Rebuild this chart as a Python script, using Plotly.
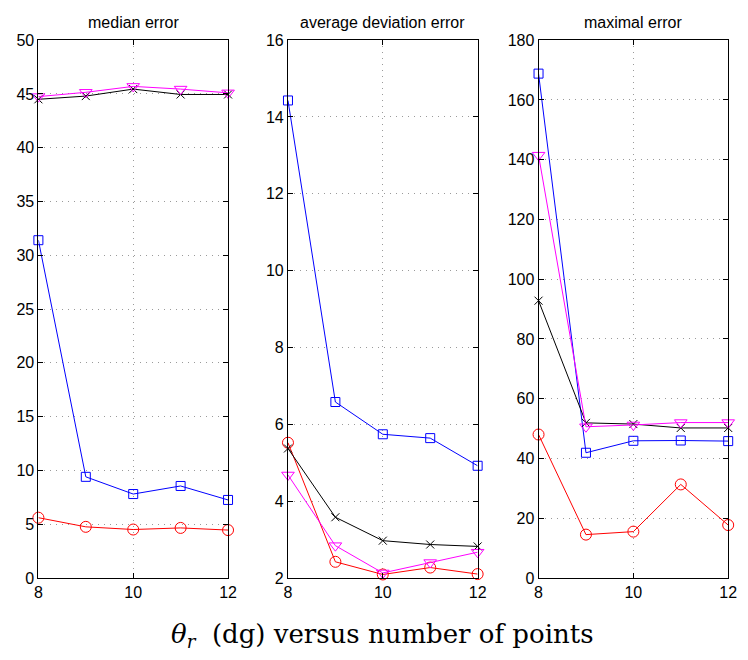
import plotly.graph_objects as go

# Number of points on the x axis
n_points = [8, 9, 10, 11, 12]

# median error
median_blue = [31.4, 9.4, 7.8, 8.55, 7.25]
median_red = [5.6, 4.75, 4.5, 4.65, 4.45]
median_black = [44.5, 44.8, 45.45, 44.95, 44.95]
median_magenta = [44.75, 45.15, 45.7, 45.45, 45.1]

# average deviation error
avgdev_blue = [14.43, 6.58, 5.74, 5.64, 4.92]
avgdev_red = [5.52, 2.42, 2.09, 2.27, 2.1]
avgdev_black = [5.37, 3.58, 2.97, 2.87, 2.82]
avgdev_magenta = [4.68, 2.84, 2.13, 2.4, 2.67]

# maximal error
max_blue = [168.8, 41.9, 45.9, 46.0, 45.8]
max_red = [48.0, 14.5, 15.5, 31.3, 17.7]
max_black = [92.8, 51.9, 51.5, 50.2, 50.2]
max_magenta = [141.5, 50.6, 51.2, 52.0, 52.0]

panel_titles = ["median error", "average deviation error", "maximal error"]
y_ranges = [(0, 50), (2, 16), (0, 180)]
y_dticks = [5, 2, 20]

panels = [
    (median_blue, median_red, median_black, median_magenta),
    (avgdev_blue, avgdev_red, avgdev_black, avgdev_magenta),
    (max_blue, max_red, max_black, max_magenta),
]

W, H = 748, 660
x_px = [(35, 228), (289, 482), (544, 737)]
y_top, y_bot = 33, 585

fig = go.Figure()

styles = [
    dict(color="#0000ff", symbol="square-open", size=9),
    dict(color="#ff0000", symbol="circle-open", size=11),
    dict(color="#000000", symbol="x-thin-open", size=8),
    dict(color="#ff00ff", symbol="triangle-down-open", size=11),
]

SANS = "Arial"
tick_font = dict(family=SANS, size=16, color="black")

for i, series in enumerate(panels):
    xa = "x" if i == 0 else f"x{i+1}"
    ya = "y" if i == 0 else f"y{i+1}"
    for vals, st in zip(series, styles):
        fig.add_trace(go.Scatter(
            x=n_points, y=vals, mode="lines+markers",
            line=dict(color=st["color"], width=1),
            marker=dict(symbol=st["symbol"], size=st["size"], color=st["color"],
                        line=dict(color=st["color"], width=1)),
            xaxis=xa, yaxis=ya, showlegend=False, cliponaxis=False,
        ))
    x0, x1 = x_px[i]
    axis_common = dict(
        showline=True, linecolor="black", linewidth=1, mirror="ticks",
        ticks="inside", ticklen=5, tickcolor="black", tickwidth=1,
        showgrid=True, gridcolor="#9a9a9a", griddash="1px,5px", gridwidth=1,
        zeroline=False, tickfont=tick_font,
    )
    fig.layout[f"xaxis{'' if i == 0 else i+1}"] = dict(
        domain=[x0 / W, x1 / W], range=[8, 12], tickvals=[8, 10, 12],
        anchor=ya, **axis_common)
    fig.layout[f"yaxis{'' if i == 0 else i+1}"] = dict(
        domain=[1 - y_bot / H, 1 - y_top / H], range=list(y_ranges[i]),
        dtick=y_dticks[i], anchor=xa, **axis_common)
    fig.add_annotation(
        x=(x0 + x1) / 2 / W, y=1 - 15 / H, xref="paper", yref="paper",
        text=panel_titles[i], showarrow=False, xanchor="center", yanchor="middle",
        font=dict(family=SANS, size=16, color="black"),
    )

fig.add_annotation(
    x=385 / W, y=1 - 644 / H, xref="paper", yref="paper",
    text="<i>θ</i><sub><i>r</i></sub>&nbsp; (dg) versus number of points",
    showarrow=False, xanchor="center", yanchor="middle",
    font=dict(family="DejaVu Serif", size=26, color="black"),
)

fig.update_layout(
    width=W, height=H, margin=dict(l=0, r=0, t=0, b=0),
    paper_bgcolor="white", plot_bgcolor="white",
)

fig.write_html("out.html")
